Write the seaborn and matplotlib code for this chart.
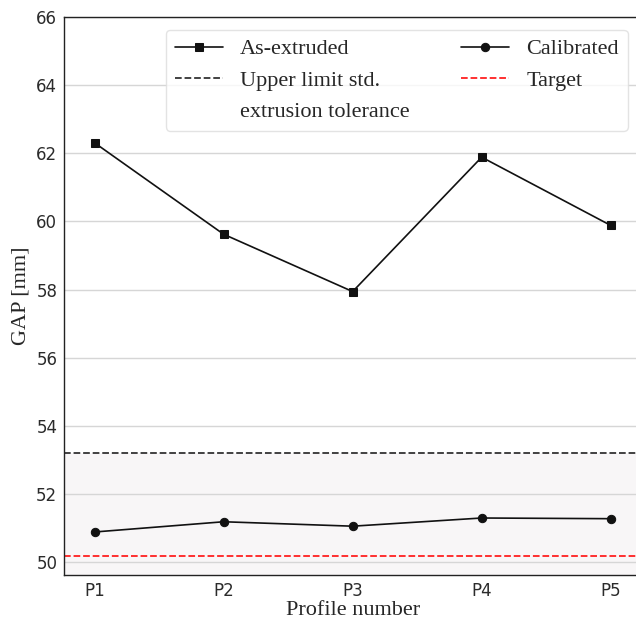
import matplotlib
matplotlib.use("Agg")
import matplotlib.pyplot as plt
from matplotlib.lines import Line2D
import seaborn as sns
import pandas as pd

# Gap measured on each profile, before and after calibration
profiles = ["P1", "P2", "P3", "P4", "P5"]
as_extruded = [62.30, 59.62, 57.94, 61.88, 59.88]
calibrated = [50.89, 51.19, 51.06, 51.30, 51.28]

# Reference levels
upper_limit = 53.2
target = 50.2

y_ticks = [50, 52, 54, 56, 58, 60, 62, 64, 66]
y_range = (49.62, 66.0)

sns.set_style("white")
plt.rcParams["font.family"] = ["DejaVu Sans"]
serif = ["Liberation Serif", "DejaVu Serif"]

df = pd.DataFrame({
    "profile": profiles * 2,
    "pos": list(range(len(profiles))) * 2,
    "gap": as_extruded + calibrated,
    "state": ["As-extruded"] * len(profiles) + ["Calibrated"] * len(profiles),
})

fig = plt.figure(figsize=(6.36, 6.2), dpi=100)
ax = fig.add_axes([0.1011, 0.0721, 0.9068, 0.901])

# tolerance band below the upper limit
ax.axhspan(y_range[0] - 1, upper_limit, color="#f8f6f7", zorder=0.1, lw=0)

sns.lineplot(data=df[df.state == "As-extruded"], x="pos", y="gap", ax=ax,
             color="#111111", lw=1.2, marker="s", markersize=6.3,
             markeredgecolor="#111111", label="As-extruded", zorder=3)
sns.lineplot(data=df[df.state == "Calibrated"], x="pos", y="gap", ax=ax,
             color="#111111", lw=1.2, marker="o", markersize=6,
             markeredgecolor="#111111", label="Calibrated", zorder=3)

ax.axhline(upper_limit, color="#333333", ls="--", lw=1.3, zorder=2,
           label="Upper limit std.")
ax.axhline(target, color="#ff2020", ls="--", lw=1.3, zorder=2,
           label="Target")

ax.set_xlim(-0.235, 4.235)
ax.set_ylim(*y_range)
ax.set_xticks(range(len(profiles)))
ax.set_xticklabels(profiles)
ax.set_yticks(y_ticks)
ax.set_axisbelow(True)
ax.yaxis.grid(True, color="#d6d6d6", lw=1.0)
ax.xaxis.grid(False)

ax.tick_params(direction="in", length=4, width=0.8, labelsize=12,
               labelcolor="#2b2b2b", color="#333333", pad=5)
for side in ("left", "bottom", "top"):
    ax.spines[side].set_color("#222222")
    ax.spines[side].set_linewidth(1.0)
ax.spines["right"].set_visible(False)

ax.set_xlabel("Profile number", family=serif, fontsize=16, labelpad=0.5)
ax.set_ylabel("GAP [mm]", family=serif, fontsize=16, labelpad=4)

handles, labels = ax.get_legend_handles_labels()
hmap = dict(zip(labels, handles))
# continuation line of the upper-limit label, drawn without a handle
blank = Line2D([], [], color="none")
entries = [
    (hmap["As-extruded"], "As-extruded"),
    (hmap["Upper limit std."], "Upper limit std."),
    (blank, "extrusion tolerance"),
    (hmap["Calibrated"], "Calibrated"),
    (hmap["Target"], "Target"),
]
leg = ax.legend([h for h, _ in entries], [t for _, t in entries], ncol=2,
                loc="upper right", prop={"family": serif, "size": 16},
                handlelength=2.16, handletextpad=0.78, columnspacing=2.3,
                borderaxespad=0.6, labelspacing=0.48, frameon=True,
                fancybox=True, framealpha=0.8, edgecolor="#dddddd")

fig.savefig("out.png", dpi=100)
